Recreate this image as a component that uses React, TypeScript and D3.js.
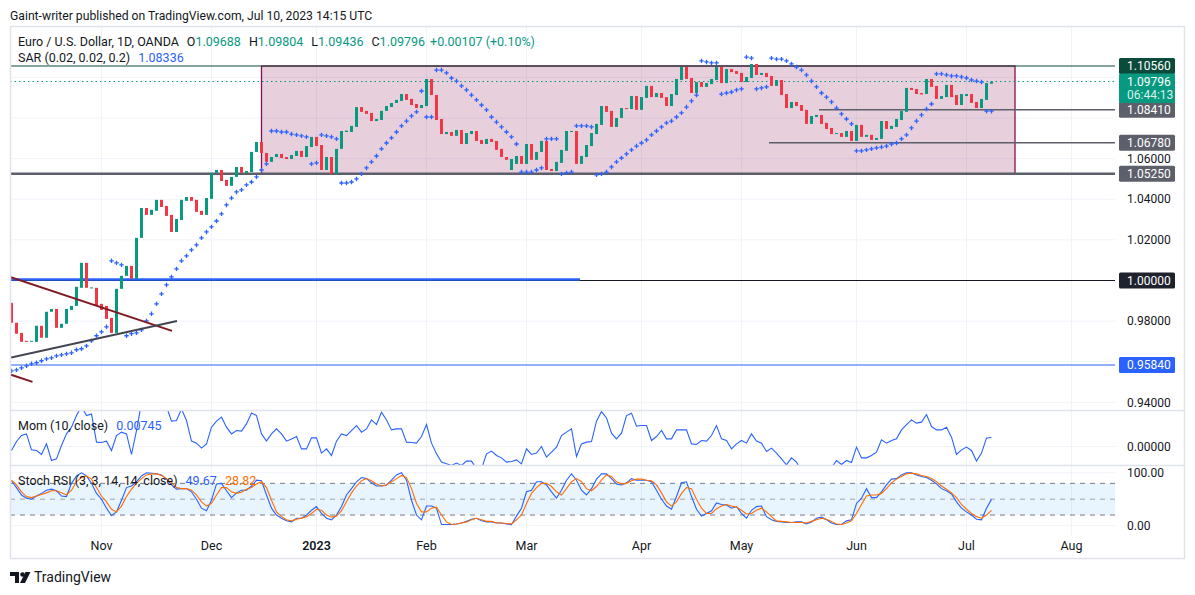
import React, { useEffect, useRef } from "react";
import * as d3 from "d3";

// EUR/USD daily, OANDA, Oct 6 2022 .. Jul 10 2023
const opens: number[] = [
  0.989, 0.9792, 0.9742, 0.9703, 0.9698, 0.9698, 0.9777, 0.9718, 0.9846, 0.986,
  0.9767, 0.9787, 0.9855, 0.9875, 0.9964, 1.0087, 0.9962, 0.9964, 0.9885, 0.9875,
  0.9816, 0.9742, 0.9959, 1.0023, 1.0072, 1.0008, 1.021, 1.0357, 1.0323, 1.0343,
  1.0397, 1.0367, 1.0323, 1.0239, 1.0298, 1.0392, 1.0411, 1.0397, 1.0343, 1.0323,
  1.0402, 1.053, 1.0544, 1.0495, 1.0466, 1.051, 1.0559, 1.053, 1.0534, 1.0633,
  1.0682, 1.0628, 1.0584, 1.0608, 1.0623, 1.0608, 1.0598, 1.0613, 1.0638, 1.0608,
  1.0657, 1.0707, 1.0667, 1.0544, 1.0608, 1.0525, 1.0648, 1.0731, 1.0731, 1.0756,
  1.0854, 1.0835, 1.0825, 1.0785, 1.079, 1.0835, 1.0854, 1.0874, 1.0884, 1.0918,
  1.0894, 1.0869, 1.0849, 1.0859, 1.0992, 1.0913, 1.0795, 1.0721, 1.0731, 1.0712,
  1.0741, 1.0672, 1.0721, 1.0736, 1.0692, 1.0672, 1.0697, 1.0687, 1.0648, 1.0608,
  1.0544, 1.0574, 1.0613, 1.0574, 1.0672, 1.0594, 1.0633, 1.0687, 1.0549, 1.0539,
  1.0579, 1.0638, 1.0731, 1.0736, 1.0574, 1.0608, 1.0662, 1.0721, 1.0766, 1.0859,
  1.0835, 1.0756, 1.08, 1.0849, 1.0844, 1.0908, 1.084, 1.0899, 1.0958, 1.0903,
  1.0923, 1.0903, 1.0859, 1.0913, 1.0987, 1.1051, 1.0997, 1.0923, 1.0977, 1.0953,
  1.0967, 1.0987, 1.1051, 1.0972, 1.1041, 1.1031, 1.1022, 1.0977, 1.0997, 1.1066,
  1.1012, 1.1022, 1.1007, 1.0958, 1.0987, 1.0918, 1.0849, 1.0879, 1.0864, 1.084,
  1.0771, 1.0805, 1.0815, 1.0776, 1.0751, 1.0721, 1.0726, 1.0707, 1.0736, 1.0687,
  1.0766, 1.0707, 1.0717, 1.0692, 1.0697, 1.0785, 1.0746, 1.0756, 1.079, 1.083,
  1.0948, 1.0943, 1.0923, 1.0918, 1.0992, 1.0958, 1.0894, 1.0903, 1.0963, 1.0913,
  1.0864, 1.0908, 1.0918, 1.0879, 1.0849, 1.0889, 1.09688,
];

const closes: number[] = [
  0.9792, 0.9738, 0.9698, 0.9698, 0.9703, 0.9777, 0.9718, 0.9846, 0.986, 0.9767,
  0.9787, 0.986, 0.9875, 0.9969, 1.0087, 0.9964, 0.9966, 0.9875, 0.9855, 0.9811,
  0.9742, 0.9959, 1.0023, 1.0072, 1.0008, 1.021, 1.0357, 1.0323, 1.0348, 1.0397,
  1.0362, 1.0318, 1.0239, 1.0303, 1.0397, 1.0411, 1.0392, 1.0338, 1.0323, 1.0406,
  1.053, 1.0544, 1.049, 1.0466, 1.051, 1.0559, 1.053, 1.0539, 1.0633, 1.0682,
  1.0628, 1.0584, 1.0608, 1.0623, 1.0603, 1.0598, 1.0618, 1.0638, 1.0608, 1.0662,
  1.0707, 1.0662, 1.0544, 1.0608, 1.0525, 1.0648, 1.0736, 1.0738, 1.0761, 1.0854,
  1.083, 1.082, 1.0785, 1.0795, 1.0835, 1.0859, 1.0874, 1.0889, 1.0918, 1.0889,
  1.0864, 1.0849, 1.0864, 1.0992, 1.0913, 1.079, 1.0721, 1.0731, 1.0712, 1.0741,
  1.0672, 1.0726, 1.0736, 1.0687, 1.0672, 1.0697, 1.0682, 1.0643, 1.0608, 1.0594,
  1.0598, 1.0613, 1.0574, 1.0672, 1.0594, 1.0633, 1.0687, 1.0544, 1.0539, 1.0584,
  1.0643, 1.0736, 1.0736, 1.0574, 1.0613, 1.0667, 1.0726, 1.0771, 1.0859, 1.083,
  1.0756, 1.08, 1.0849, 1.0844, 1.0908, 1.084, 1.0903, 1.0958, 1.0903, 1.0923,
  1.0899, 1.0859, 1.0918, 1.0992, 1.1051, 1.0992, 1.0923, 1.0977, 1.0953, 1.0972,
  1.0992, 1.1051, 1.0972, 1.1041, 1.1026, 1.1017, 1.0977, 1.1002, 1.1066, 1.1012,
  1.1022, 1.1002, 1.0958, 1.0987, 1.0913, 1.0849, 1.0879, 1.0859, 1.0835, 1.0771,
  1.081, 1.0815, 1.0771, 1.0746, 1.0721, 1.0726, 1.0707, 1.0736, 1.0687, 1.0766,
  1.0707, 1.0717, 1.0692, 1.0702, 1.0785, 1.0746, 1.0761, 1.0795, 1.0835, 1.0948,
  1.0938, 1.0918, 1.0916, 1.0992, 1.0953, 1.0894, 1.0908, 1.0963, 1.0903, 1.0864,
  1.0918, 1.0918, 1.0874, 1.0849, 1.0894, 1.0972, 1.09796,
];

const sar: number[] = [
  0.9555, 0.956, 0.957, 0.958, 0.959, 0.9595, 0.9605, 0.9614, 0.9619, 0.9629,
  0.9634, 0.9639, 0.9644, 0.9659, 0.9664, 0.9678, 0.9703, 0.9728, 0.9747, 0.9772,
  1.0097, 1.0087, 1.0077, 0.9728, 0.9738, 0.9742, 0.9757, 0.9801, 0.9836, 0.9885,
  0.9934, 0.9978, 1.0018, 1.0057, 1.0097, 1.0121, 1.0151, 1.0175, 1.021, 1.0239,
  1.0264, 1.0293, 1.0328, 1.0372, 1.0406, 1.0436, 1.0446, 1.0471, 1.0485, 1.051,
  1.0544, 1.0574, 1.0736, 1.0736, 1.0731, 1.0731, 1.0721, 1.0717, 1.0712, 1.0707,
  1.0574, 1.0579, 1.0717, 1.0712, 1.0707, 1.0697, 1.048, 1.048, 1.0485, 1.05,
  1.0525, 1.0554, 1.0584, 1.0613, 1.0648, 1.0677, 1.0702, 1.0731, 1.0761, 1.0785,
  1.081, 1.083, 1.0933, 1.0805, 1.0805, 1.1036, 1.1036, 1.1022, 1.0997, 1.0982,
  1.0958, 1.0938, 1.0913, 1.0889, 1.0864, 1.084, 1.0805, 1.078, 1.0756, 1.0731,
  1.0707, 1.0672, 1.0534, 1.0534, 1.0534, 1.0544, 1.0554, 1.0697, 1.0697, 1.0697,
  1.0525, 1.053, 1.0534, 1.0761, 1.0761, 1.0761, 1.0756, 1.052, 1.0525, 1.0534,
  1.0559, 1.0584, 1.0603, 1.0623, 1.0643, 1.0662, 1.0677, 1.0692, 1.0717, 1.0736,
  1.0756, 1.0776, 1.0785, 1.0805, 1.0825, 1.0854, 1.0884, 1.0913, 1.1081, 1.1076,
  1.1071, 1.1071, 1.0918, 1.0923, 1.0928, 1.0938, 1.0943, 1.11, 1.1095, 1.0943,
  1.0948, 1.0953, 1.1095, 1.109, 1.109, 1.1081, 1.1066, 1.1051, 1.1036, 1.1012,
  1.0982, 1.0953, 1.0923, 1.0903, 1.0879, 1.0849, 1.082, 1.0795, 1.0771, 1.0638,
  1.0638, 1.0643, 1.0648, 1.0653, 1.0657, 1.0662, 1.0672, 1.0677, 1.0697, 1.0717,
  1.0751, 1.0785, 1.0815, 1.0844, 1.0869, 1.1017, 1.1017, 1.1012, 1.1007, 1.1007,
  1.1002, 1.0997, 1.0987, 1.0982, 1.0977, 1.0834, 1.08336,
];

const momentum: number[] = [
  -0.0032, 0.004, 0.0088, 0.0101, -0.0027, -0.0032, -0.0064, 0.0021, -0.0112, -0.0099,
  0.0008, 0.0101, 0.0155, 0.0248, 0.032, 0.0248, 0.0261, 0.0035, 0.0032, 0.0043,
  -0.0032, 0.0088, 0.0115, 0.0101, -0.0064, 0.0128, 0.035, 0.04, 0.042, 0.04,
  0.035, 0.032, 0.0203, 0.0208, 0.03, 0.0208, 0.0043, 0.0027, -0.0013, 0.0021,
  0.0155, 0.0203, 0.0235, 0.0155, 0.0101, 0.0128, 0.0123, 0.0181, 0.0269, 0.0248,
  0.0101, 0.0043, 0.0101, 0.0141, 0.0101, 0.0043, 0.0061, 0.008, -0.0019, -0.0019,
  0.0069, 0.0069, -0.0053, -0.0019, -0.0072, 0.0043, 0.0101, 0.0088, 0.0128, 0.0168,
  0.0115, 0.0141, 0.0213, 0.0176, 0.0275, 0.0213, 0.0133, 0.0141, 0.0141, 0.0035,
  0.0032, 0.0027, 0.008, 0.0176, 0.0027, -0.0059, -0.0125, -0.0139, -0.0152, -0.0133,
  -0.0152, -0.0117, -0.0117, -0.018, -0.018, -0.0059, -0.0037, -0.0072, -0.0091, -0.0125,
  -0.012, -0.0107, -0.0139, -0.0019, -0.0064, -0.0053, 0.0, -0.0085, -0.0045, -0.0005,
  0.0088, 0.0115, 0.0141, -0.008, 0.0021, 0.0035, 0.004, 0.0203, 0.028, 0.0229,
  0.0107, 0.0061, 0.0107, 0.0248, 0.0267, 0.0163, 0.0168, 0.0168, 0.0048, 0.008,
  0.0128, 0.0061, 0.0061, 0.0133, 0.0133, 0.0133, 0.0021, 0.0016, 0.0048, 0.0043,
  0.0088, 0.0168, 0.0061, 0.0048, -0.0019, 0.0021, 0.0048, 0.0027, 0.0101, 0.0043,
  0.0027, -0.004, -0.0013, -0.0053, -0.0099, -0.0147, -0.0091, -0.0125, -0.02, -0.024,
  -0.026, -0.025, -0.022, -0.02, -0.017, -0.0112, -0.0144, -0.0112, -0.0128, -0.0005,
  -0.0091, -0.0091, -0.0072, -0.0045, 0.0053, 0.0027, 0.0048, 0.0061, 0.0133, 0.0176,
  0.0213, 0.0187, 0.0195, 0.0256, 0.016, 0.0133, 0.0133, 0.0155, 0.0075, -0.0064,
  -0.0027, -0.0005, -0.0032, -0.0117, -0.0053, 0.0067, 0.00745,
];

const stochK: number[] = [
  85, 72, 58, 52, 50, 56, 61, 67, 69, 66, 56, 55, 80, 94, 100, 94, 80, 61, 50, 33,
  19, 26, 48, 72, 75, 83, 94, 100, 99, 98, 96, 88, 77, 69, 70, 70, 64, 50, 33, 28,
  48, 79, 80, 66, 53, 62, 67, 67, 75, 86, 85, 58, 33, 20, 14, 9, 7, 14, 14, 20,
  29, 36, 23, 14, 11, 20, 36, 58, 70, 83, 91, 89, 81, 75, 75, 77, 86, 96, 100, 86,
  48, 20, 11, 37, 37, 33, 2, 2, 2, 3, 5, 8, 12, 14, 9, 7, 7, 5, 5, 3,
  2, 18, 33, 64, 67, 83, 83, 77, 64, 52, 67, 86, 98, 86, 67, 58, 70, 88, 98, 98,
  89, 79, 77, 81, 89, 86, 86, 86, 83, 67, 50, 37, 31, 55, 81, 83, 55, 31, 18, 23,
  28, 43, 40, 39, 33, 36, 23, 14, 29, 36, 37, 17, 11, 8, 7, 6, 6, 7, 7, 3,
  7, 14, 16, 11, 5, 2, 2, 9, 11, 42, 52, 70, 53, 53, 64, 77, 88, 89, 96, 100,
  100, 96, 93, 91, 86, 79, 70, 66, 60, 45, 33, 26, 20, 12, 11, 33, 49.67,
];

const stochD: number[] = [
  86, 77, 64, 55, 53, 56, 59, 62, 66, 66, 62, 58, 67, 83, 91, 94, 88, 72, 56, 45,
  31, 26, 37, 55, 69, 80, 89, 96, 98, 98, 95, 89, 81, 72, 70, 70, 67, 58, 45, 37,
  42, 58, 72, 72, 64, 61, 63, 69, 72, 79, 83, 72, 48, 26, 17, 11, 9, 12, 14, 17,
  23, 31, 29, 20, 16, 18, 28, 45, 62, 75, 85, 89, 85, 79, 75, 77, 83, 89, 95, 91,
  70, 42, 26, 26, 33, 35, 20, 7, 2, 3, 5, 7, 11, 14, 11, 8, 8, 5, 5, 4,
  3, 11, 20, 42, 61, 72, 80, 80, 74, 64, 58, 70, 83, 89, 83, 70, 66, 74, 86, 96,
  93, 83, 79, 80, 85, 88, 88, 86, 85, 77, 62, 45, 37, 45, 61, 72, 70, 50, 33, 23,
  23, 32, 37, 40, 37, 35, 29, 22, 23, 29, 33, 26, 17, 9, 8, 7, 6, 6, 6, 5,
  8, 11, 14, 12, 8, 3, 2, 5, 9, 23, 40, 56, 58, 58, 61, 70, 81, 88, 93, 98,
  99, 98, 95, 93, 89, 83, 75, 69, 62, 53, 40, 31, 23, 17, 14, 20, 28.82,
];

const priceTicks = [0.94, 0.96, 0.98, 1.0, 1.02, 1.04, 1.06, 1.08, 1.1];
const levelPrices = [1.1056, 1.09796, 1.0841, 1.0678, 1.0525, 1.0, 0.9584];
const monthLabels = ["Nov", "Dec", "2023", "Feb", "Mar", "Apr", "May", "Jun", "Jul", "Aug"];

const UP = "#089981";
const DOWN = "#f23645";
const BLUE = "#2962ff";
const ORANGE = "#ff6d00";
const TEXT = "#131722";
const FONT = "Roboto, 'Noto Sans', sans-serif";

// trading days: weekdays from Oct 6 2022, one holiday gap at Christmas
const buildDates = (count: number) => {
  const out: Date[] = [];
  let d = new Date(Date.UTC(2022, 9, 6));
  while (out.length < count) {
    const wd = d.getUTCDay();
    const iso = d.toISOString().slice(0, 10);
    if (wd !== 0 && wd !== 6 && iso !== "2022-12-26") out.push(d);
    d = new Date(d.getTime() + 86400000);
  }
  return out;
};

const App: React.FC = () => {
  const ref = useRef<SVGSVGElement>(null);

  useEffect(() => {
    document.body.style.margin = "0";
    if (!ref.current) return;
    const svg = d3.select(ref.current);
    svg.selectAll("*").remove();

    const left = 10, plotRight = 1115, frameRight = 1184;
    const top = 27, priceBottom = 410.5, momBottom = 465.5, stochBottom = 535;

    const x = d3.scaleLinear().domain([0, closes.length - 1]).range([11.5, 991.5]);
    const y = d3.scaleLinear().domain([0.9584, 1.1056]).range([365, 66]);
    const momY = d3.scaleLinear().domain([0, 0.00745]).range([446.5, 437.2]);
    const stY = d3.scaleLinear().domain([0, 100]).range([525.6, 472.8]);

    const dates = buildDates(222);
    const monthIdx: number[] = [];
    for (let i = 1; i < dates.length; i++) {
      if (dates[i].getUTCMonth() !== dates[i - 1].getUTCMonth()) monthIdx.push(i);
    }

    const defs = svg.append("defs");
    defs.append("clipPath").attr("id", "clipPrice").append("rect")
      .attr("x", left).attr("y", top).attr("width", plotRight - left).attr("height", priceBottom - top);
    defs.append("clipPath").attr("id", "clipMom").append("rect")
      .attr("x", left).attr("y", priceBottom).attr("width", plotRight - left).attr("height", momBottom - priceBottom);

    svg.append("rect").attr("width", 1195).attr("height", 595).attr("fill", "#fff");

    // header
    svg.append("text").attr("x", 10).attr("y", 19.5).attr("font-family", FONT)
      .attr("font-size", 12.2).attr("fill", TEXT)
      .text("Gaint-writer published on TradingView.com, Jul 10, 2023 14:15 UTC");

    // grid
    const grid = svg.append("g").attr("stroke", "#f0f3fa").attr("stroke-width", 1);
    monthIdx.slice(0, monthLabels.length).forEach((i) => {
      grid.append("line").attr("x1", x(i)).attr("x2", x(i)).attr("y1", top).attr("y2", stochBottom);
    });
    priceTicks.forEach((p) => {
      grid.append("line").attr("x1", left).attr("x2", plotRight).attr("y1", y(p)).attr("y2", y(p));
    });
    grid.append("line").attr("x1", left).attr("x2", plotRight).attr("y1", momY(0)).attr("y2", momY(0));
    [0, 100].forEach((v) => {
      grid.append("line").attr("x1", left).attr("x2", plotRight).attr("y1", stY(v)).attr("y2", stY(v));
    });

    // price pane
    const pg = svg.append("g").attr("clip-path", "url(#clipPrice)");

    pg.append("rect")
      .attr("x", x(50)).attr("y", y(1.1056))
      .attr("width", x(200.7) - x(50)).attr("height", y(1.0525) - y(1.1056))
      .attr("fill", "rgba(136,14,79,0.2)").attr("stroke", "#880e4f").attr("stroke-width", 1.3);

    const hline = (p: number, from: number, color: string, w: number, dash?: string) => {
      const l = pg.append("line")
        .attr("x1", from).attr("x2", plotRight).attr("y1", y(p)).attr("y2", y(p))
        .attr("stroke", color).attr("stroke-width", w);
      if (dash) l.attr("stroke-dasharray", dash);
    };
    hline(1.1056, left, "#0b4b3b", 1.2);
    hline(1.09796, left, UP, 1, "1.5,3");
    hline(1.0841, x(161.5), "#5d606b", 1.5);
    hline(1.0678, x(151.5), "#5d606b", 1.5);
    hline(1.0525, left, "#5d606b", 2.5);
    hline(1.0, left, TEXT, 1);
    hline(0.9584, left, BLUE, 1.2);
    pg.append("line").attr("x1", left).attr("x2", x(113.7))
      .attr("y1", y(1.0) - 1).attr("y2", y(1.0) - 1)
      .attr("stroke", BLUE).attr("stroke-width", 2.5);

    // candles (bodies)
    pg.append("g").selectAll("rect").data(closes).enter().append("rect")
      .attr("x", (_, i) => x(i) - 1.5)
      .attr("width", 3)
      .attr("y", (c, i) => Math.min(y(c), y(opens[i])))
      .attr("height", (c, i) => Math.max(1, Math.abs(y(c) - y(opens[i]))))
      .attr("fill", (c, i) => (c >= opens[i] ? UP : DOWN));

    // parabolic SAR crosses
    pg.append("path")
      .attr("d", sar.map((s, i) => `M${x(i) - 2.2},${y(s)}h4.4M${x(i)},${y(s) - 2.2}v4.4`).join(""))
      .attr("stroke", BLUE).attr("stroke-width", 1.3).attr("fill", "none");

    // trend lines
    const seg = (a: [number, number], b: [number, number], color: string, w: number) => {
      pg.append("line")
        .attr("x1", x(a[0])).attr("y1", y(a[1])).attr("x2", x(b[0])).attr("y2", y(b[1]))
        .attr("stroke", color).attr("stroke-width", w);
    };
    seg([-0.3, 1.0018], [32.1, 0.9752], "#801922", 2);
    seg([-0.1, 0.9536], [4.2, 0.9501], "#801922", 2);
    seg([-0.3, 0.9619], [33.1, 0.9801], "#434651", 2);

    // momentum pane
    const mline = d3.line<number>().x((_, i) => x(i)).y((v) => momY(v));
    svg.append("path").attr("clip-path", "url(#clipMom)").attr("d", mline(momentum) || "")
      .attr("fill", "none").attr("stroke", BLUE).attr("stroke-width", 1.1);

    // stoch RSI pane
    svg.append("rect").attr("x", left).attr("width", plotRight - left)
      .attr("y", stY(80)).attr("height", stY(20) - stY(80)).attr("fill", "rgba(33,150,243,0.1)");
    [80, 50, 20].forEach((v) => {
      svg.append("line").attr("x1", left).attr("x2", plotRight).attr("y1", stY(v)).attr("y2", stY(v))
        .attr("stroke", v === 50 ? "#a3a6af" : "#787b86").attr("stroke-width", 1)
        .attr("stroke-dasharray", "5,5");
    });
    const sline = d3.line<number>().x((_, i) => x(i)).y((v) => stY(v));
    svg.append("path").attr("d", sline(stochK) || "").attr("fill", "none").attr("stroke", BLUE).attr("stroke-width", 1.1);
    svg.append("path").attr("d", sline(stochD) || "").attr("fill", "none").attr("stroke", ORANGE).attr("stroke-width", 1.1);

    // frame + separators
    const fr = svg.append("g").attr("stroke", "#e0e3eb").attr("fill", "none");
    fr.append("rect").attr("x", left + 0.5).attr("y", top - 0.5)
      .attr("width", frameRight - left).attr("height", 559 - top).attr("stroke-width", 1.5);
    [priceBottom, momBottom].forEach((yy) => {
      fr.append("line").attr("x1", left).attr("x2", frameRight).attr("y1", yy).attr("y2", yy).attr("stroke-width", 1.5);
    });

    // price axis (tick labels hidden where a level badge sits on top)
    const ax = svg.append("g").attr("font-family", FONT).attr("font-size", 12).attr("fill", TEXT);
    priceTicks
      .filter((p) => levelPrices.every((b) => Math.abs(y(p) - y(b)) > 15))
      .forEach((p) => {
        ax.append("text").attr("x", 1127).attr("y", y(p)).attr("dy", "0.35em").text(d3.format(".5f")(p));
      });
    ax.append("text").attr("x", 1127).attr("y", momY(0)).attr("dy", "0.35em").text("0.00000");
    ax.append("text").attr("x", 1127).attr("y", stY(100)).attr("dy", "0.35em").text("100.00");
    ax.append("text").attr("x", 1127).attr("y", stY(0)).attr("dy", "0.35em").text("0.00");

    const badge = (p: number, bg: string) => {
      ax.append("rect").attr("x", 1119).attr("y", y(p) - 8).attr("width", 56).attr("height", 16)
        .attr("rx", 1.5).attr("fill", bg);
      ax.append("text").attr("x", 1127).attr("y", y(p)).attr("dy", "0.35em").attr("fill", "#fff")
        .text(d3.format(".5f")(p));
    };
    badge(1.0525, "#5d606b");
    badge(1.0678, "#5d606b");
    badge(1.0841, "#5d606b");
    badge(1.0, "#1e222d");
    badge(0.9584, BLUE);
    badge(1.1056, "#0b4b3b");
    ax.append("rect").attr("x", 1119).attr("y", 73.5).attr("width", 56).attr("height", 29.5)
      .attr("rx", 1.5).attr("fill", UP);
    ax.append("text").attr("x", 1127).attr("y", 82).attr("dy", "0.35em").attr("fill", "#fff").text("1.09796");
    ax.append("text").attr("x", 1127).attr("y", 95).attr("dy", "0.35em").attr("fill", "#d9f2ec").text("06:44:13");

    // time axis
    monthIdx.slice(0, monthLabels.length).forEach((i, k) => {
      ax.append("text").attr("x", x(i)).attr("y", 546).attr("dy", "0.35em")
        .attr("text-anchor", "middle").attr("font-size", 12.5)
        .attr("font-weight", monthLabels[k] === "2023" ? 600 : 400)
        .text(monthLabels[k]);
    });

    // legends
    const lg = svg.append("g").attr("font-family", FONT).attr("font-size", 12.5).attr("fill", TEXT);
    const l1 = lg.append("text").attr("x", 18).attr("y", 42).attr("dy", "0.35em");
    l1.append("tspan").text("Euro / U.S. Dollar, 1D, OANDA");
    [["O", "1.09688"], ["H", "1.09804"], ["L", "1.09436"], ["C", "1.09796"]].forEach(([k, v]) => {
      l1.append("tspan").attr("dx", 8).text(k);
      l1.append("tspan").attr("fill", UP).text(v);
    });
    l1.append("tspan").attr("dx", 5).attr("fill", UP).text("+0.00107 (+0.10%)");

    const l2 = lg.append("text").attr("x", 18).attr("y", 58).attr("dy", "0.35em");
    l2.append("tspan").text("SAR (0.02, 0.02, 0.2)");
    l2.append("tspan").attr("dx", 8).attr("fill", BLUE).text("1.08336");

    const l3 = lg.append("text").attr("x", 18).attr("y", 426).attr("dy", "0.35em");
    l3.append("tspan").text("Mom (10, close)");
    l3.append("tspan").attr("dx", 8).attr("fill", BLUE).text("0.00745");

    const l4 = lg.append("text").attr("x", 18).attr("y", 481).attr("dy", "0.35em");
    l4.append("tspan").text("Stoch RSI (3, 3, 14, 14, close)");
    l4.append("tspan").attr("dx", 8).attr("fill", BLUE).text("49.67");
    l4.append("tspan").attr("dx", 8).attr("fill", ORANGE).text("28.82");

    // TradingView logo
    const logo = svg.append("g").attr("fill", TEXT);
    logo.append("path").attr("d", "M10 572h9v11h-4v-7h-5z");
    logo.append("circle").attr("cx", 22.5).attr("cy", 574.5).attr("r", 2.3);
    logo.append("path").attr("d", "M25.5 572h5l-5.5 11h-5z");
    logo.append("text").attr("x", 34).attr("y", 577.5).attr("dy", "0.35em")
      .attr("font-family", FONT).attr("font-size", 14).text("TradingView");
  }, []);

  return <svg ref={ref} width={1195} height={595} style={{ display: "block" }} />;
};

export default App;
